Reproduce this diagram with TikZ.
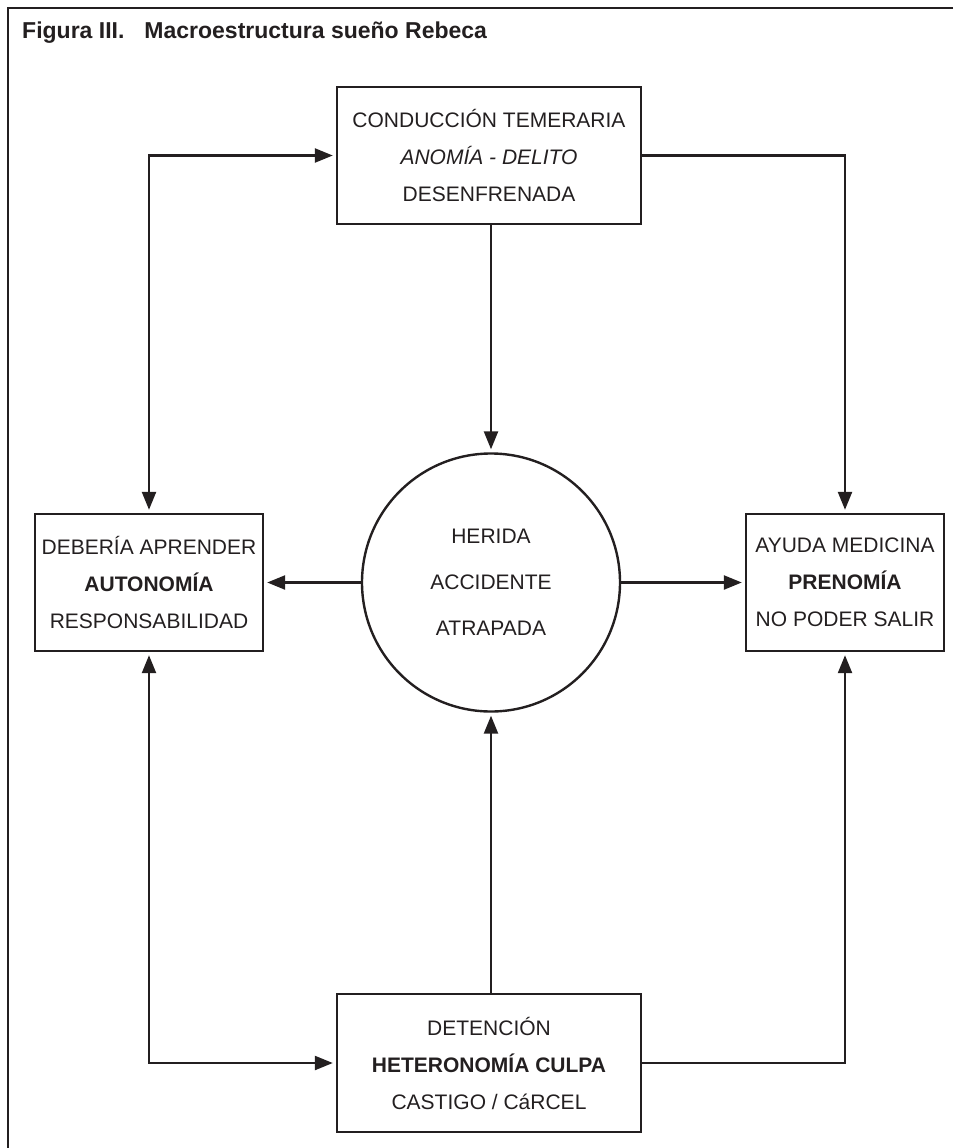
\documentclass[tikz,border=0pt]{standalone}
\usepackage{fontspec}
\setmainfont{Liberation Sans}
\usepackage{tikz}
\usetikzlibrary{arrows.meta,positioning,shapes.geometric}
\definecolor{ink}{HTML}{231F20}

\begin{document}
\begin{tikzpicture}[
  x=1pt, y=-1pt,
  stage/.style={draw=ink, line width=2.4pt, rectangle, minimum height=137pt, inner sep=0pt,
                align=center, text=ink, font=\fontsize{21}{37}\selectfont},
  core/.style={draw=ink, line width=2.4pt, circle, minimum size=258pt, inner sep=0pt,
               align=center, text=ink, font=\fontsize{21}{46}\selectfont},
  arrow/.style={-{Triangle[length=18pt, width=14pt]}, line width=2.4pt, draw=ink, shorten >=3pt},
  twoarrow/.style={{Triangle[length=18pt, width=14pt]}-{Triangle[length=18pt, width=14pt]},
                   line width=2.4pt, draw=ink, shorten >=3pt, shorten <=3pt}
]
\useasboundingbox (0,0) rectangle (953,1148);

% Frame and title
\draw[ink, line width=2.4pt] (953,8) -- (8,8) -- (8,1148);
\node[anchor=base west, inner sep=0pt, text=ink, font=\fontsize{23}{28}\selectfont\bfseries] (title) at (22,38)
  {Figura III.\hspace{20pt}Macroestructura sueño Rebeca};

% Top node
\node[stage, minimum width=304pt] (cond) at (489,155.5)
  {CONDUCCIÓN TEMERARIA\\ \textit{ANOMÍA - DELITO}\\ DESENFRENADA};

% Centre
\node[core] (her) at (491,582.5) {HERIDA\\ ACCIDENTE\\ ATRAPADA};

% Two sides
\node[stage, minimum width=228pt] (aut) at (149,582.5)
  {DEBERÍA APRENDER\\ \textbf{AUTONOMÍA}\\ RESPONSABILIDAD};
\node[stage, minimum width=198pt] (pre) at (845,582.5)
  {AYUDA MEDICINA\\ \textbf{PRENOMÍA}\\ NO PODER SALIR};

% Bottom node
\node[stage, minimum width=304pt, minimum height=138pt] (det) at (489,1063)
  {DETENCIÓN\\ \textbf{HETERONOMÍA CULPA}\\ CASTIGO / CáRCEL};

% Arrows from the top
\draw[twoarrow] (aut.north) |- (cond.west);
\draw[arrow] (cond.east) -| (pre.north);
\draw[arrow] (her.north |- cond.south) -- (her.north);

% Arrows from the centre
\draw[arrow] (her.west) -- (aut.east);
\draw[arrow] (her.east) -- (pre.west);

% Arrows from the bottom
\draw[arrow] (her.south |- det.north) -- (her.south);
\draw[twoarrow] (aut.south) |- (det.west);
\draw[arrow] (det.east) -| (pre.south);

\end{tikzpicture}
\end{document}
